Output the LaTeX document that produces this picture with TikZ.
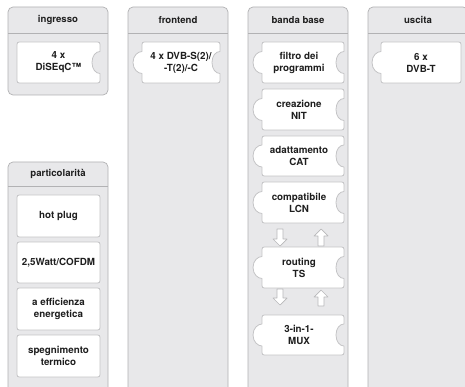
\documentclass[tikz,border=0pt]{standalone}
\usepackage{fontspec}
\setmainfont{TeX Gyre Heros}
\definecolor{panelfill}{HTML}{E8E8EA}
\definecolor{panelborder}{HTML}{B2B2B4}
\definecolor{boxborder}{HTML}{C4C4C6}
\definecolor{arrowc}{HTML}{B8B8BA}
\definecolor{textc}{HTML}{1E1E1E}
\tikzset{
  panel/.style={fill=panelfill, draw=panelborder, line width=0.7pt, rounded corners=5pt},
  divline/.style={draw=panelborder, line width=0.7pt},
  pzline/.style={fill=white, draw=boxborder, line width=0.8pt, line join=round},
  txt/.style={font=\bfseries\fontsize{9.8}{12}\selectfont, text=textc, align=center, inner sep=0pt},
  hdr/.style={font=\bfseries\fontsize{9.6}{12}\selectfont, text=textc, inner sep=0pt},
  barrow/.style={fill=white, draw=arrowc, line width=0.7pt, line join=round}
}
% #1 name, #2 L, #3 T, #4 R, #5 B, #6 left tab (0/1), #7 right notch (0/1), #8 text x offset, #9 text
\newcommand\pzbox[9]{%
  \pgfmathsetmacro\pzc{(#3+#5)/2}%
  \def\pzR{--}%
  \ifnum#7=1 \def\pzR{-- (#4,\pzc-11) .. controls (#4-4,\pzc-11) and (#4-8,\pzc-7) .. (#4-8,\pzc) .. controls (#4-8,\pzc+7) and (#4-4,\pzc+11) .. (#4,\pzc+11) --}\fi
  \def\pzL{--}%
  \ifnum#6=1 \def\pzL{-- (#2,\pzc+11) .. controls (#2-4,\pzc+11) and (#2-9,\pzc+7) .. (#2-9,\pzc) .. controls (#2-9,\pzc-7) and (#2-4,\pzc-11) .. (#2,\pzc-11) --}\fi
  \draw[pzline] (#2+5,#3) -- (#4-5,#3) .. controls (#4,#3) .. (#4,#3+5) \pzR (#4,#5-5)
     .. controls (#4,#5) .. (#4-5,#5) -- (#2+5,#5) .. controls (#2,#5) .. (#2,#5-5)
     \pzL (#2,#3+5) .. controls (#2,#3) .. (#2+5,#3) -- cycle;
  \node[txt] (#1) at ({(#2+#4)/2+#8},\pzc) {#9};%
}
\newcommand\pzdown[3]{%
  \draw[barrow] (#1-3,#2) -- (#1+3,#2) -- (#1+3,#3-7) -- (#1+7,#3-7) -- (#1,#3) -- (#1-7,#3-7) -- (#1-3,#3-7) -- cycle;}
\newcommand\pzup[3]{%
  \draw[barrow] (#1,#2) -- (#1+7,#2+7) -- (#1+3,#2+7) -- (#1+3,#3) -- (#1-3,#3) -- (#1-3,#2+7) -- (#1-7,#2+7) -- cycle;}
\begin{document}
\begin{tikzpicture}[x=1pt,y=-1pt]
\useasboundingbox (0,0) rectangle (465,387);
\clip (0,0) rectangle (465,387);
\fill[white] (0,0) rectangle (465,387);
% panels
\draw[panel] (8,7) rectangle (108,95);
\draw[divline] (8,33) -- (108,33);
\node[hdr] (h1) at (58,20) {ingresso};
\draw[panel] (128,7) rectangle (228,400);
\draw[divline] (128,33) -- (228,33);
\node[hdr] (h2) at (178,20) {frontend};
\draw[panel] (248,7) rectangle (348,400);
\draw[divline] (248,33) -- (348,33);
\node[hdr] (h3) at (298,20) {banda base};
\draw[panel] (368,7) rectangle (468,400);
\draw[divline] (368,33) -- (468,33);
\node[hdr] (h4) at (418,20) {uscita};
\draw[panel] (8,162) rectangle (108,400);
\draw[divline] (8,186) -- (108,186);
\node[hdr] (h5) at (58,174) {particolarità};
% boxes
\pzbox{diseqc}{17}{42}{100}{83}{0}{1}{0}{4 x\\DiSEqC™}
\pzbox{dvb}{142}{42}{220}{83}{1}{1}{0}{4 x DVB-S(2)/\\-T(2)/-C}
\pzbox{filtro}{262}{42}{344}{83}{1}{1}{-4}{filtro dei\\programmi}
\pzbox{nit}{262}{89}{344}{130}{1}{1}{-4}{creazione\\NIT}
\pzbox{cat}{262}{136}{344}{176}{1}{1}{-4}{adattamento\\CAT}
\pzbox{lcn}{262}{182}{344}{223}{1}{1}{-4}{compatibile\\LCN}
\pzbox{ts}{262}{247}{344}{288}{1}{1}{-4}{routing\\TS}
\pzbox{mux}{262}{315}{344}{355}{1}{1}{-4}{3-in-1-\\MUX}
\pzbox{dvbt}{381}{42}{461}{83}{1}{0}{0}{6 x\\DVB-T}
\pzbox{hot}{17}{195}{100}{237}{0}{0}{0}{hot plug}
\pzbox{watt}{17}{242}{100}{283}{0}{0}{0}{2,5Watt/COFDM}
\pzbox{eff}{17}{288}{100}{330}{0}{0}{0}{a efficienza\\energetica}
\pzbox{spe}{17}{335}{100}{377}{0}{0}{0}{spegnimento\\termico}
% arrows
\pzdown{280}{229}{246}
\pzup{321}{229}{246}
\pzdown{280}{289}{305}
\pzup{321}{290}{306}
\end{tikzpicture}
\end{document}
